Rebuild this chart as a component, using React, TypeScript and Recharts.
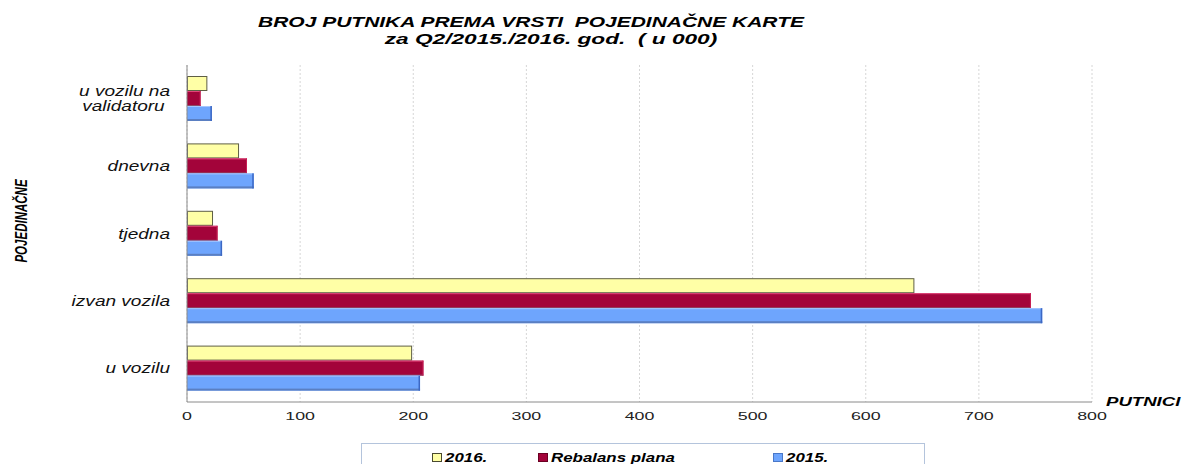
import React from "react";
import { BarChart, Bar, XAxis, YAxis, CartesianGrid } from "recharts";

// values in thousands
const categories = ["u vozilu na\nvalidatoru ", "dnevna", "tjedna", "izvan vozila", "u vozilu"];
const values2016 = [18, 46, 23, 643, 199];
const valuesRebalans = [12, 53, 27, 746, 209];
const values2015 = [22, 59, 31, 756, 206];
const xTicks = [0, 100, 200, 300, 400, 500, 600, 700, 800];

const seriesNames = ["2016.", "Rebalans plana", "2015."];
const seriesKeys = ["y2016", "rebalans", "y2015"];
const looks = ["yellow", "red", "blue"];

const data = categories.map((name, i) => ({
  name,
  y2016: values2016[i],
  rebalans: valuesRebalans[i],
  y2015: values2015[i],
}));

const FONT = "'Liberation Sans', Arial, sans-serif";

const SText = ({
  x,
  y,
  sx = 1,
  rotate,
  anchor = "start",
  size = 13,
  bold = false,
  italic = false,
  fill = "#000",
  children,
}: any) => (
  <g transform={`translate(${x},${y})${rotate ? ` rotate(${rotate})` : ""} scale(${sx},1)`}>
    <text
      x={0}
      y={0}
      textAnchor={anchor}
      fontFamily={FONT}
      fontSize={size}
      fontWeight={bold ? "bold" : "normal"}
      fontStyle={italic ? "italic" : "normal"}
      fill={fill}
      style={{ whiteSpace: "pre" }}
    >
      {children}
    </text>
  </g>
);

const BevelBar = (props: any) => {
  const { x, y, width, height, look } = props;
  if (!width || width <= 0) return null;
  if (look === "yellow") {
    return (
      <rect
        x={x + 0.5}
        y={y + 0.5}
        width={width - 1}
        height={height - 1}
        fill="#ffffa6"
        stroke="#5f5f45"
      />
    );
  }
  if (look === "red") {
    return (
      <g>
        <rect x={x} y={y} width={width} height={height} fill="#a3043a" />
        <line x1={x} x2={x + width} y1={y + 0.5} y2={y + 0.5} stroke="#e2467a" />
        <line x1={x} x2={x + width} y1={y + height - 0.5} y2={y + height - 0.5} stroke="#8c4a64" />
        <line x1={x + width - 0.5} x2={x + width - 0.5} y1={y} y2={y + height} stroke="#c81e55" />
      </g>
    );
  }
  return (
    <g>
      <rect x={x} y={y} width={width} height={height} fill="#6ea5fd" />
      <line x1={x} x2={x + width} y1={y + 0.5} y2={y + 0.5} stroke="#a4c6ff" />
      <rect x={x} y={y + height - 2} width={width} height={2} fill="#5a7fc2" />
      <rect x={x + width - 1.5} y={y} width={1.5} height={height} fill="#3c68c4" />
    </g>
  );
};

const CategoryTick = (props: any) => {
  const { x, y, payload } = props;
  const lines = String(payload.value).split("\n");
  const tx = x - 9;
  if (lines.length === 1) {
    return (
      <SText x={tx} y={y + 5} sx={1.36} anchor="end" size={14} italic fill="#111">
        {lines[0]}
      </SText>
    );
  }
  return (
    <g>
      {lines.map((l, i) => (
        <SText key={i} x={tx} y={y - 3 + i * 15} sx={1.36} anchor="end" size={14} italic fill="#111">
          {l}
        </SText>
      ))}
    </g>
  );
};

const ValueTick = (props: any) => {
  const { x, y, payload } = props;
  return (
    <SText x={x} y={y + 10} sx={1.55} anchor="middle" size={11.5} fill="#222">
      {String(payload.value)}
    </SText>
  );
};

const legendFill: Record<string, string> = { yellow: "#ffffa6", red: "#a3043a", blue: "#6ea5fd" };
const legendStroke: Record<string, string> = { yellow: "#4a4a30", red: "#6a0022", blue: "#4a78c8" };
const legendX = [432, 538, 773];

export default function App() {
  return (
    <div style={{ position: "absolute", left: 0, top: 0, width: 1184, height: 464, background: "#fff", overflow: "hidden" }}>
      <BarChart
        width={1184}
        height={464}
        data={data}
        layout="vertical"
        margin={{ top: 65, right: 92, bottom: 32, left: 0 }}
        barCategoryGap={11}
        barGap={0}
      >
        <CartesianGrid horizontal={false} stroke="#d6d6d6" strokeDasharray="2 2" />
        <XAxis
          type="number"
          domain={[0, 800]}
          ticks={xTicks}
          tickLine={false}
          axisLine={{ stroke: "#8a8a8a" }}
          tick={<ValueTick />}
          interval={0}
        />
        <YAxis
          type="category"
          dataKey="name"
          width={187}
          tickLine={false}
          axisLine={{ stroke: "#8a8a8a" }}
          tick={<CategoryTick />}
          interval={0}
        />
        {seriesKeys.map((k, i) => (
          <Bar
            key={k}
            dataKey={k}
            name={seriesNames[i]}
            isAnimationActive={false}
            shape={(p: any) => <BevelBar {...p} look={looks[i]} />}
          />
        ))}
      </BarChart>
      <svg width={1184} height={464} style={{ position: "absolute", left: 0, top: 0, pointerEvents: "none" }}>
        <SText x={531} y={27} sx={1.5} anchor="middle" size={14} bold italic>
          {"BROJ PUTNIKA PREMA VRSTI  POJEDINAČNE KARTE"}
        </SText>
        <SText x={551} y={44} sx={1.62} anchor="middle" size={14} bold italic>
          {"za Q2/2015./2016. god.  ( u 000)"}
        </SText>
        <SText x={27} y={221} rotate={-90} sx={0.72} anchor="middle" size={16} bold italic>
          POJEDINAČNE
        </SText>
        <SText x={1106} y={406} sx={1.55} size={12} bold italic>
          PUTNICI
        </SText>
        <rect x={361.5} y={443.5} width={563} height={40} fill="#fff" stroke="#b4c4dc" />
        {seriesNames.map((n, i) => (
          <g key={n}>
            <rect
              x={legendX[i] + 0.5}
              y={453.5}
              width={9}
              height={8}
              fill={legendFill[looks[i]]}
              stroke={legendStroke[looks[i]]}
            />
            <SText x={legendX[i] + 13} y={462} sx={1.3} size={13} bold italic>
              {n}
            </SText>
          </g>
        ))}
      </svg>
    </div>
  );
}
